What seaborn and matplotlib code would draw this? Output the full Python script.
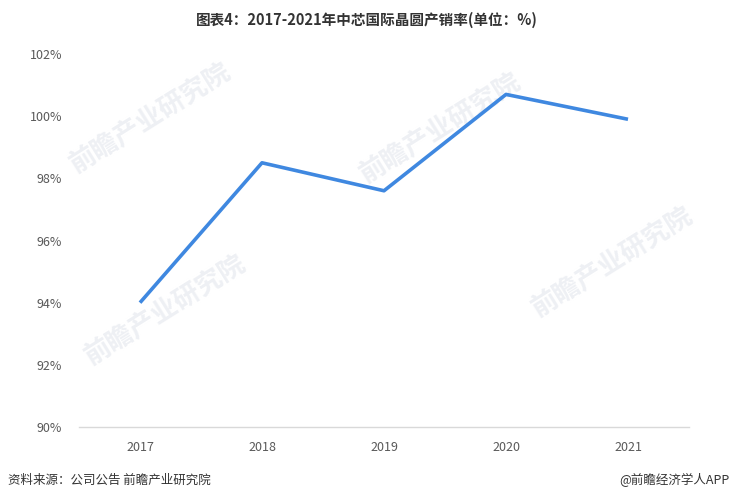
import matplotlib
matplotlib.use("Agg")
import matplotlib.pyplot as plt
import seaborn as sns
import pandas as pd
from matplotlib.ticker import FuncFormatter

years = ["2017", "2018", "2019", "2020", "2021"]
rate = [94.0, 98.5, 97.6, 100.7, 99.9]
yticks = [90, 92, 94, 96, 98, 100, 102]

sns.set_theme(style="white")
plt.rcParams['font.family'] = ['Noto Sans CJK SC', 'DejaVu Sans']

df = pd.DataFrame({"year": years, "rate": rate})

fig = plt.figure(figsize=(7.33, 5.0), dpi=100)
ax = fig.add_axes([79/733, 1-427/500, (689-79)/733, (427-54)/500])

# watermarks (behind everything)
wm_pos = [(150, 118), (440, 128), (165, 310), (612, 262)]
for (x, y) in wm_pos:
    fig.text(x/733, 1-y/500, "前瞻产业研究院", fontsize=19, color="#EEF0F4",
             rotation=32, ha="center", va="center", fontweight="bold", zorder=-5)

sns.lineplot(data=df, x="year", y="rate", ax=ax, color="#3F88E0", linewidth=2.6,
             sort=False, solid_capstyle="butt")
ax.patch.set_alpha(0)

ax.set_xlim(-0.5, len(years) - 0.5)
ax.set_ylim(90, 102)
ax.set_yticks(yticks)
ax.yaxis.set_major_formatter(FuncFormatter(lambda v, p: f"{int(v)}%"))
ax.set_xlabel("")
ax.set_ylabel("")
for s in ["top", "right", "left"]:
    ax.spines[s].set_visible(False)
ax.spines["bottom"].set_color("#D9D9D9")
ax.spines["bottom"].set_linewidth(1)
ax.tick_params(axis="both", length=0, labelsize=9, colors="#595959")
ax.tick_params(axis="y", pad=12)
ax.tick_params(axis="x", pad=10)
ax.grid(False)

fig.text(0.5, 1-20/500, "图表4：2017-2021年中芯国际晶圆产销率(单位：%)", ha="center", va="center",
         fontsize=10.5, fontweight="bold", color="#333333")
fig.text(8/733, 1-480/500, "资料来源：公司公告 前瞻产业研究院", ha="left", va="center",
         fontsize=9, color="#333333")
fig.text(730/733, 1-480/500, "@前瞻经济学人APP", ha="right", va="center",
         fontsize=9, color="#333333")

fig.savefig("out.png", dpi=100)
